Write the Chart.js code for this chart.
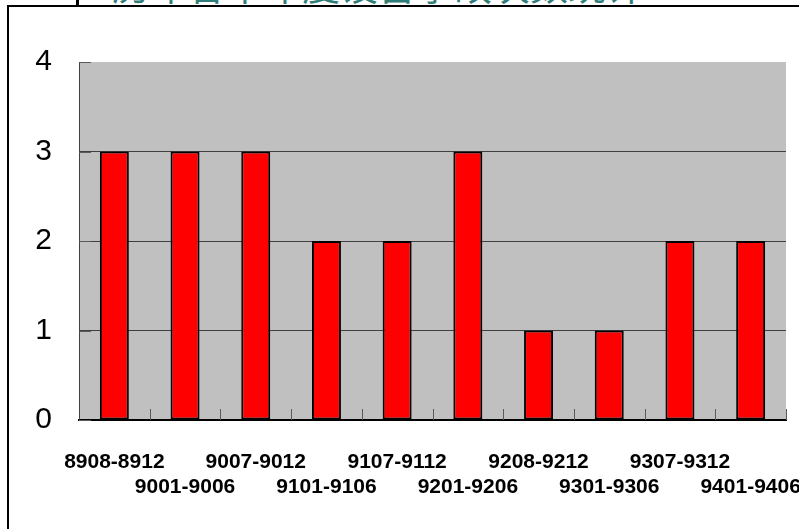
<!DOCTYPE html>
<html>
<head>
<meta charset="utf-8">
<script src="https://cdn.jsdelivr.net/npm/chart.js@4/dist/chart.umd.min.js"></script>
<style>
  html, body { margin: 0; padding: 0; background: #fff; overflow: hidden; width: 799px; height: 529px; }
  #frame { position: absolute; left: 7px; top: 5px; width: 900px; height: 600px; border-left: 2px solid #000; border-top: 2px solid #000; }
  #mark { position: absolute; left: 76px; top: 0; width: 3px; height: 6px; background: #000; }
  #title { position: absolute; left: 112px; top: -35px; font: 38px "Noto Sans CJK SC"; color: #2f7d79; line-height: 1; white-space: nowrap; }
  #wrap { position: absolute; left: 0; top: 0; width: 799px; height: 529px; }
</style>
</head>
<body>
<div id="frame"></div>
<div id="mark"></div>
<div id="title">历年各半年度设备事故次数统计</div>
<div id="wrap"><canvas id="c" width="799" height="529"></canvas></div>
<script>
// Half-year periods and the count recorded in each
const categories = ['8908-8912', '9001-9006', '9007-9012', '9101-9106', '9107-9112',
                    '9201-9206', '9208-9212', '9301-9306', '9307-9312', '9401-9406'];
const counts = [3, 3, 3, 2, 2, 3, 1, 1, 2, 2];
const yTickValues = [0, 1, 2, 3, 4];

// Alternate labels between two rows so the long period names don't collide
const staggered = categories.map((c, i) => (i % 2 ? ['', c] : c));

const plotBackground = {
  id: 'plotBackground',
  beforeDraw(chart) {
    const { ctx, chartArea: a } = chart;
    ctx.save();
    ctx.fillStyle = '#c0c0c0';
    ctx.fillRect(a.left, a.top, a.right - a.left, a.bottom - a.top);
    ctx.restore();
  }
};

// Short inward tick marks on both axes
const innerTicks = {
  id: 'innerTicks',
  afterDraw(chart) {
    const { ctx, chartArea: a, scales } = chart;
    const xs = scales.x, ys = scales.y;
    ctx.save();
    ctx.strokeStyle = '#5a5a5a';
    ctx.lineWidth = 1;
    ctx.beginPath();
    for (let i = 0; i < categories.length; i++) {
      const p = i < categories.length - 1
        ? (xs.getPixelForValue(i) + xs.getPixelForValue(i + 1)) / 2
        : a.right;
      const x = Math.round(p) + 0.5;
      ctx.moveTo(x, a.bottom - 11);
      ctx.lineTo(x, a.bottom);
    }
    yTickValues.forEach(v => {
      const y = Math.round(ys.getPixelForValue(v)) + 0.5;
      ctx.moveTo(a.left, y);
      ctx.lineTo(a.left + 12, y);
    });
    ctx.stroke();
    ctx.restore();
  }
};

new Chart(document.getElementById('c'), {
  type: 'bar',
  data: {
    labels: staggered,
    datasets: [{
      data: counts,
      backgroundColor: '#ff0000',
      borderColor: '#000000',
      borderWidth: 2,
      borderSkipped: false,
      categoryPercentage: 1,
      barPercentage: 0.41
    }]
  },
  options: {
    responsive: false,
    devicePixelRatio: 1,
    animation: false,
    layout: { padding: { top: 62, right: 13, bottom: 0, left: 0 } },
    plugins: { legend: { display: false }, tooltip: { enabled: false }, title: { display: false } },
    scales: {
      x: {
        grid: { display: false, drawTicks: false },
        border: { display: true, color: '#000', width: 2 },
        ticks: {
          autoSkip: false,
          maxRotation: 0,
          minRotation: 0,
          padding: 30,
          color: '#000',
          font: { family: 'Liberation Sans, Arial, sans-serif', size: 21, weight: 'bold', lineHeight: 1.19 }
        },
        afterFit(scale) {
          scale.height = 109;
          scale.paddingLeft = 0;
          scale.paddingRight = 0;
        }
      },
      y: {
        min: 0,
        max: 4,
        afterBuildTicks(scale) {
          scale.ticks = yTickValues.map(v => ({ value: v }));
        },
        grid: {
          drawTicks: false,
          color: ctx => (ctx.tick && (ctx.tick.value === 0 || ctx.tick.value === 4)) ? 'rgba(0,0,0,0)' : '#404040',
          lineWidth: 1
        },
        border: { display: true, color: '#404040', width: 1 },
        ticks: {
          padding: 27,
          color: '#000',
          font: { family: 'Liberation Sans, Arial, sans-serif', size: 30 }
        },
        afterFit(scale) {
          scale.width = 79;
        }
      }
    }
  },
  plugins: [plotBackground, innerTicks]
});
</script>
</body>
</html>
